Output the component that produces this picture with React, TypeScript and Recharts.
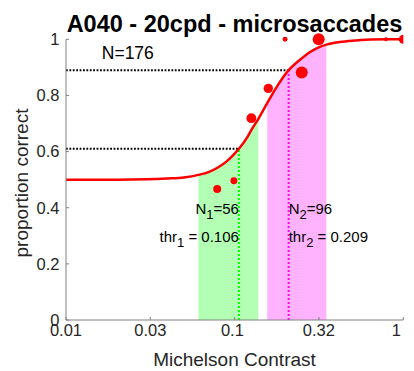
import {
  ComposedChart,
  XAxis,
  YAxis,
  ZAxis,
  Line,
  Area,
  Scatter,
  ReferenceDot,
  Customized,
} from 'recharts';

// fitted psychometric curve, read along its length
const CURVE_X = [0.01, 0.02, 0.03, 0.04, 0.05, 0.061, 0.07, 0.08, 0.09, 0.1, 0.106, 0.12, 0.1265, 0.138, 0.156, 0.18, 0.209, 0.245, 0.28, 0.32, 0.35, 0.42, 0.5, 0.64, 0.8, 1];
const CURVE_P = [0.5, 0.5, 0.501, 0.504, 0.508, 0.517, 0.527, 0.544, 0.566, 0.593, 0.61, 0.655, 0.68, 0.716, 0.773, 0.836, 0.89, 0.928, 0.955, 0.973, 0.981, 0.99, 0.995, 0.999, 1, 1];

// measured points (contrast, proportion correct, trials)
const DOT_X = [0.0788, 0.099, 0.1256, 0.1583, 0.199, 0.2498, 0.315, 0.789, 1];
const DOT_P = [0.467, 0.496, 0.719, 0.825, 1, 0.882, 1, 1, 1];
const DOT_N = [16, 12, 24, 22, 6, 36, 36, 4, 20];

const X_TICKS = [0.01, 0.0316, 0.1, 0.316, 1];
const X_TICK_LABELS = ['0.01', '0.03', '0.1', '0.32', '1'];
const Y_TICKS = [0, 0.2, 0.4, 0.6, 0.8, 1];

const THRESHOLDS = [0.106, 0.209];
const THRESHOLD_P = [0.61, 0.89];
const BAND_1 = [0.061, 0.138];
const BAND_2 = [0.156, 0.35];
const N_TOTAL = 176;
const N_SPLIT = [56, 96];

const curve = CURVE_X.map((x, i) => ({ x, y: CURVE_P[i] }));
const dots = DOT_X.map((x, i) => ({ x, y: DOT_P[i], n: DOT_N[i] }));
const band = (lim: number[]) => curve.filter(d => d.x >= lim[0] && d.x <= lim[1]);

const hLine = (i: number) => [
  { x: X_TICKS[0], y: THRESHOLD_P[i] },
  { x: THRESHOLDS[i], y: THRESHOLD_P[i] },
];
const vLine = (i: number) => [
  { x: THRESHOLDS[i], y: 0 },
  { x: THRESHOLDS[i], y: THRESHOLD_P[i] },
];

const TXT = '#262626';

function Titles() {
  return (
    <g>
      <text x={234.5} y={31.5} textAnchor="middle" fontSize={23.5} fontWeight="bold" fill="#000">
        A040 - 20cpd - microsaccades
      </text>
      <text x={234.5} y={366} textAnchor="middle" fontSize={19} fill={TXT}>
        Michelson Contrast
      </text>
      <text transform="translate(28,183) rotate(-90)" textAnchor="middle" fontSize={19} fill={TXT}>
        proportion correct
      </text>
    </g>
  );
}

// text with a subscript, e.g. N_1=56
const subText = (pre: string, sub: string, post: string, anchor: 'start' | 'end') => (p: any) => (
  <text x={p.cx} y={p.cy} textAnchor={anchor} fontSize={15} fill="#000">
    {pre}
    <tspan dy={5} fontSize={13}>{sub}</tspan>
    <tspan dy={-5}>{post}</tspan>
  </text>
);

export default function App() {
  return (
    <div style={{ position: 'absolute', left: 0, top: 0, fontFamily: '"Liberation Sans", Arial, sans-serif', background: '#fff' }}>
      <ComposedChart width={414} height={371} margin={{ top: 39.3, right: 10.7, left: 0, bottom: 0 }}>
        <XAxis
          dataKey="x"
          type="number"
          scale="log"
          domain={[0.01, 1]}
          allowDataOverflow
          ticks={X_TICKS}
          tickFormatter={(v: number, i: number) => X_TICK_LABELS[i].padEnd(4, '\u00a0')}
          height={51}
          stroke="#808080"
          tickSize={-3}
          tickMargin={7.3}
          tick={{ fill: TXT, fontSize: 16.5 }}
        />
        <YAxis
          type="number"
          domain={[0, 1]}
          ticks={Y_TICKS}
          width={66}
          stroke="#808080"
          tickSize={-3}
          tickMargin={9.5}
          tick={{ fill: TXT, fontSize: 16.5 }}
        />
        <ZAxis dataKey="n" type="number" domain={[0, 50]} range={[0, 50 * Math.PI]} />

        <Area data={band(BAND_1)} dataKey="y" type="monotone" stroke="none" fill="#b3ffb3" fillOpacity={1} isAnimationActive={false} />
        <Area data={band(BAND_2)} dataKey="y" type="monotone" stroke="none" fill="#ffb3ff" fillOpacity={1} isAnimationActive={false} />

        <Line data={hLine(0)} dataKey="y" stroke="#000" strokeWidth={2} strokeDasharray="1.8 1.6" dot={false} activeDot={false} isAnimationActive={false} />
        <Line data={hLine(1)} dataKey="y" stroke="#000" strokeWidth={2} strokeDasharray="1.8 1.6" dot={false} activeDot={false} isAnimationActive={false} />
        <Line data={vLine(0)} dataKey="y" stroke="#00ff00" strokeWidth={2} strokeDasharray="2 2" dot={false} activeDot={false} isAnimationActive={false} />
        <Line data={vLine(1)} dataKey="y" stroke="#ff00ff" strokeWidth={2} strokeDasharray="2 2" dot={false} activeDot={false} isAnimationActive={false} />

        <Line data={curve} dataKey="y" type="monotone" stroke="#ff0000" strokeWidth={2.5} dot={false} activeDot={false} isAnimationActive={false} />
        <Scatter data={dots} dataKey="y" fill="#ff0000" isAnimationActive={false} />

        <ReferenceDot x={0.0163} y={0.929} r={0} shape={(p: any) => (
          <text x={p.cx} y={p.cy} fontSize={17.5} fill="#000">N={N_TOTAL}</text>
        )} />
        <ReferenceDot x={THRESHOLDS[0]} y={0.378} r={0} shape={subText('N', '1', `=${N_SPLIT[0]}`, 'end')} />
        <ReferenceDot x={THRESHOLDS[0]} y={0.278} r={0} shape={subText('thr', '1', ` = ${THRESHOLDS[0]}`, 'end')} />
        <ReferenceDot x={THRESHOLDS[1]} y={0.378} r={0} shape={subText('N', '2', `=${N_SPLIT[1]}`, 'start')} />
        <ReferenceDot x={THRESHOLDS[1]} y={0.278} r={0} shape={subText('thr', '2', ` = ${THRESHOLDS[1]}`, 'start')} />

        <Customized component={Titles} />
      </ComposedChart>
    </div>
  );
}
